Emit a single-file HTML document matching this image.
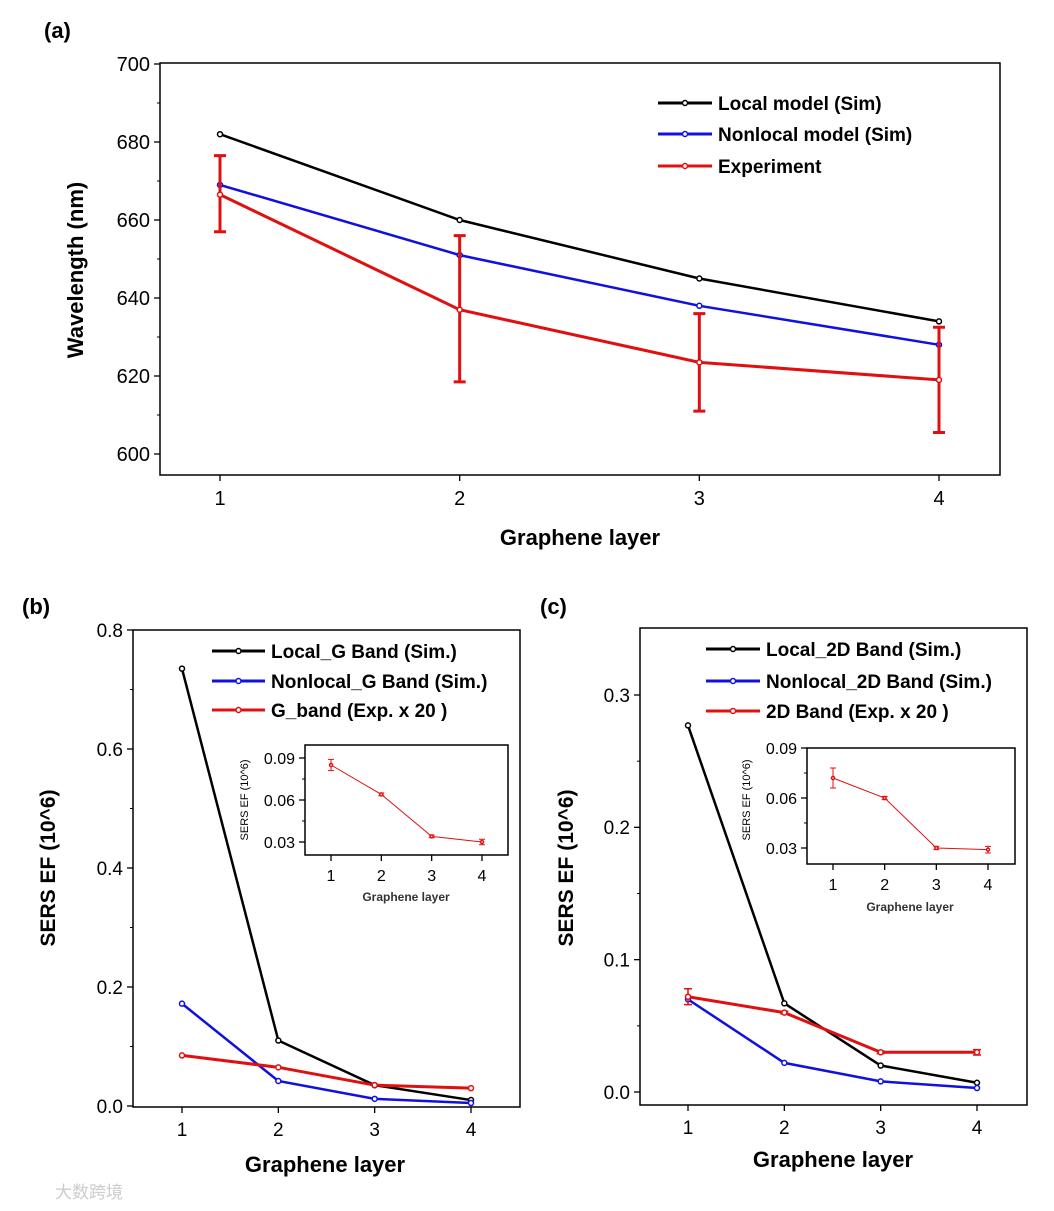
<!DOCTYPE html>
<html><head><meta charset="utf-8"><style>
body{margin:0;background:#fff}
svg{display:block;font-family:"Liberation Sans",Arial,sans-serif}
</style></head><body>
<svg id="c" width="1054" height="1211" viewBox="0 0 1054 1211"></svg>
<script>
// ---- data ----
const layers=[1,2,3,4];
const aLocal=[682,660,645,634];
const aNonlocal=[669,651,638,628];
const aExp=[666.5,637,623.5,619];
const aErrLo=[657,618.5,611,605.5];
const aErrHi=[676.5,656,636,632.5];
const aTicks=[600,620,640,660,680,700];

const bLocal=[0.735,0.11,0.035,0.01];
const bNonlocal=[0.172,0.042,0.012,0.005];
const bExp=[0.085,0.065,0.035,0.03];
const bTicks=[0.0,0.2,0.4,0.6,0.8];
const bInset=[0.085,0.064,0.034,0.03];
const bInsetErr=[0.004,0.001,0.001,0.002];
const insetTicks=[0.03,0.06,0.09];

const cLocal=[0.277,0.067,0.02,0.007];
const cNonlocal=[0.07,0.022,0.008,0.003];
const cExp=[0.072,0.06,0.03,0.03];
const cExpErr=[0.006,0.001,0.001,0.002];
const cTicks=[0.0,0.1,0.2,0.3];
const cInset=[0.072,0.060,0.030,0.029];
const cInsetErr=[0.006,0.001,0.001,0.002];

const svg=document.getElementById('c');
const NS='http://www.w3.org/2000/svg';
function el(t,a,p){const e=document.createElementNS(NS,t);for(const k in a)e.setAttribute(k,a[k]);(p||svg).appendChild(e);return e;}
function txt(s,a,p){const e=el('text',a,p);e.textContent=s;return e;}
function lin(d0,d1,r0,r1){return v=>r0+(v-d0)*(r1-r0)/(d1-d0);}

function series(g,xs,ys,vals,color,w,name,r){
  const s=el('g',{},g);
  
  
  el('polyline',{points:vals.map((v,i)=>xs(layers[i])+','+ys(v)).join(' '),fill:'none',stroke:color,'stroke-width':w},s);
  vals.forEach((v,i)=>{const c=el('circle',{cx:xs(layers[i]),cy:ys(v),r:r,fill:'#fff',stroke:color,'stroke-width':1.5},s);
    
    });
  return s;
}
function errs(g,xs,ys,lo,hi,color,w,cap,name){
  lo.forEach((l,i)=>{const x=xs(layers[i]);const e=el('path',{d:`M${x},${ys(l)}V${ys(hi[i])}M${x-cap},${ys(l)}h${2*cap}M${x-cap},${ys(hi[i])}h${2*cap}`,stroke:color,'stroke-width':w,fill:'none'},g);
    
    });
}
function axes(g,box,xs,ys,yt,fmt,fs,minor){
  el('rect',{x:box[0],y:box[1],width:box[2]-box[0],height:box[3]-box[1],fill:'none',stroke:'#000','stroke-width':1.5},g);
  yt.forEach(v=>{el('line',{x1:box[0],x2:box[0]-6,y1:ys(v),y2:ys(v),stroke:'#000','stroke-width':1.3},g);
    txt(fmt(v),{x:box[0]-10,y:ys(v)+fs*0.36,'text-anchor':'end','font-size':fs},g);});
  if(minor) for(let i=0;i<yt.length-1;i++){const m=(yt[i]+yt[i+1])/2;el('line',{x1:box[0],x2:box[0]-3,y1:ys(m),y2:ys(m),stroke:'#000'},g);}
  layers.forEach(v=>{el('line',{x1:xs(v),x2:xs(v),y1:box[3],y2:box[3]+6,stroke:'#000','stroke-width':1.3},g);
    txt(String(v),{x:xs(v),y:box[3]+fs+10,'text-anchor':'middle','font-size':fs},g);});
}
function legend(g,x0,x1,ys,labels,colors,fs){
  labels.forEach((l,i)=>{const e=el('g',{},g);
    
    
    el('line',{x1:x0,x2:x1,y1:ys[i],y2:ys[i],stroke:colors[i],'stroke-width':3},e);
    el('circle',{cx:(x0+x1)/2,cy:ys[i],r:2.5,fill:'#fff',stroke:colors[i],'stroke-width':1.5},e);
    txt(l,{x:x1+6,y:ys[i]+fs*0.36,'font-size':fs,'font-weight':'bold'},e);});
}

// ---- Panel a ----
{const g=el('g',{});
const box=[160,63,1000,475];const xs=lin(1,4,220,939);const ys=lin(600,700,454,64);
txt('(a)',{x:44,y:38,'font-size':22,'font-weight':'bold'},g);
axes(g,box,xs,ys,aTicks,v=>String(v),20,true);
txt('Graphene layer',{x:580,y:545,'text-anchor':'middle','font-size':22,'font-weight':'bold'},g);
txt('Wavelength (nm)',{x:0,y:0,transform:'translate(83,270) rotate(-90)','text-anchor':'middle','font-size':22,'font-weight':'bold'},g);
series(g,xs,ys,aLocal,'#000',2.5,'local-model-line',2.5);
series(g,xs,ys,aNonlocal,'#1010e0',2.5,'nonlocal-model-line',2.5);
errs(g,xs,ys,aErrLo,aErrHi,'#e01010',3,6,'experiment-error-bar');
series(g,xs,ys,aExp,'#e01010',3,'experiment-line',2.5);
legend(g,658,712,[103,134,166],['Local model (Sim)','Nonlocal model (Sim)','Experiment'],['#000','#1010e0','#e01010'],19);}

// ---- Panel b ----
{const g=el('g',{});
const box=[133,630,520,1107];const xs=lin(1,4,182,471);const ys=lin(0,0.8,1106,630);
txt('(b)',{x:22,y:614,'font-size':22,'font-weight':'bold'},g);
axes(g,box,xs,ys,bTicks,v=>v.toFixed(1),19,true);
txt('Graphene layer',{x:325,y:1172,'text-anchor':'middle','font-size':22,'font-weight':'bold'},g);
txt('SERS EF (10^6)',{x:0,y:0,transform:'translate(55,868) rotate(-90)','text-anchor':'middle','font-size':21,'font-weight':'bold'},g);
series(g,xs,ys,bLocal,'#000',2.5,'local-g-band-line',2.5);
series(g,xs,ys,bNonlocal,'#1010e0',2.5,'nonlocal-g-band-line',2.5);
series(g,xs,ys,bExp,'#e01010',3,'g-band-exp-line',2.5);
legend(g,212,265,[651,681,710],['Local_G Band (Sim.)','Nonlocal_G Band (Sim.)','G_band (Exp. x 20 )'],['#000','#1010e0','#e01010'],19);
const ib=[305,745,508,855];const ixs=lin(1,4,331,482);const iys=lin(0.03,0.09,842,758);
const ig=el('g',{},g);
el('rect',{x:ib[0],y:ib[1],width:ib[2]-ib[0],height:ib[3]-ib[1],fill:'#fff'},ig);
axes(ig,ib,ixs,iys,insetTicks,v=>v.toFixed(2),16,true);
txt('Graphene layer',{x:406,y:901,'text-anchor':'middle','font-size':12,'font-weight':'bold','fill':'#333'},ig);
txt('SERS EF (10^6)',{x:0,y:0,transform:'translate(248,800) rotate(-90)','text-anchor':'middle','font-size':11},ig);
errs(ig,ixs,iys,bInset.map((v,i)=>v-bInsetErr[i]),bInset.map((v,i)=>v+bInsetErr[i]),'#e01010',1,3,'inset-b-error-bar');
series(ig,ixs,iys,bInset,'#e01010',1,'inset-b-line',1.5);}

// ---- Panel c ----
{const g=el('g',{});
const box=[640,628,1027,1105];const xs=lin(1,4,688,977);const ys=lin(0,0.3,1092,695);
txt('(c)',{x:540,y:614,'font-size':22,'font-weight':'bold'},g);
axes(g,box,xs,ys,cTicks,v=>v.toFixed(1),19,true);
txt('Graphene layer',{x:833,y:1167,'text-anchor':'middle','font-size':22,'font-weight':'bold'},g);
txt('SERS EF (10^6)',{x:0,y:0,transform:'translate(573,868) rotate(-90)','text-anchor':'middle','font-size':21,'font-weight':'bold'},g);
series(g,xs,ys,cLocal,'#000',2.5,'local-2d-band-line',2.5);
series(g,xs,ys,cNonlocal,'#1010e0',2.5,'nonlocal-2d-band-line',2.5);
errs(g,xs,ys,cExp.map((v,i)=>v-cExpErr[i]),cExp.map((v,i)=>v+cExpErr[i]),'#e01010',1.5,4,'2d-band-exp-error-bar');
series(g,xs,ys,cExp,'#e01010',3,'2d-band-exp-line',2.5);
legend(g,706,760,[649,681,711],['Local_2D Band (Sim.)','Nonlocal_2D Band (Sim.)','2D Band (Exp. x 20 )'],['#000','#1010e0','#e01010'],19);
const ib=[807,748,1015,864];const ixs=lin(1,4,833,988);const iys=lin(0.03,0.09,848,748);
const ig=el('g',{},g);
el('rect',{x:ib[0],y:ib[1],width:ib[2]-ib[0],height:ib[3]-ib[1],fill:'#fff'},ig);
axes(ig,ib,ixs,iys,insetTicks,v=>v.toFixed(2),16,true);
txt('Graphene layer',{x:910,y:911,'text-anchor':'middle','font-size':12,'font-weight':'bold','fill':'#333'},ig);
txt('SERS EF (10^6)',{x:0,y:0,transform:'translate(750,800) rotate(-90)','text-anchor':'middle','font-size':11},ig);
errs(ig,ixs,iys,cInset.map((v,i)=>v-cInsetErr[i]),cInset.map((v,i)=>v+cInsetErr[i]),'#e01010',1,3,'inset-c-error-bar');
series(ig,ixs,iys,cInset,'#e01010',1,'inset-c-line',1.5);}

const wm=txt('大数跨境',{x:55,y:1198,'font-size':17,fill:'#ccc','font-family':'"Liberation Sans","Noto Sans CJK SC",sans-serif'});


</script>
</body></html>
